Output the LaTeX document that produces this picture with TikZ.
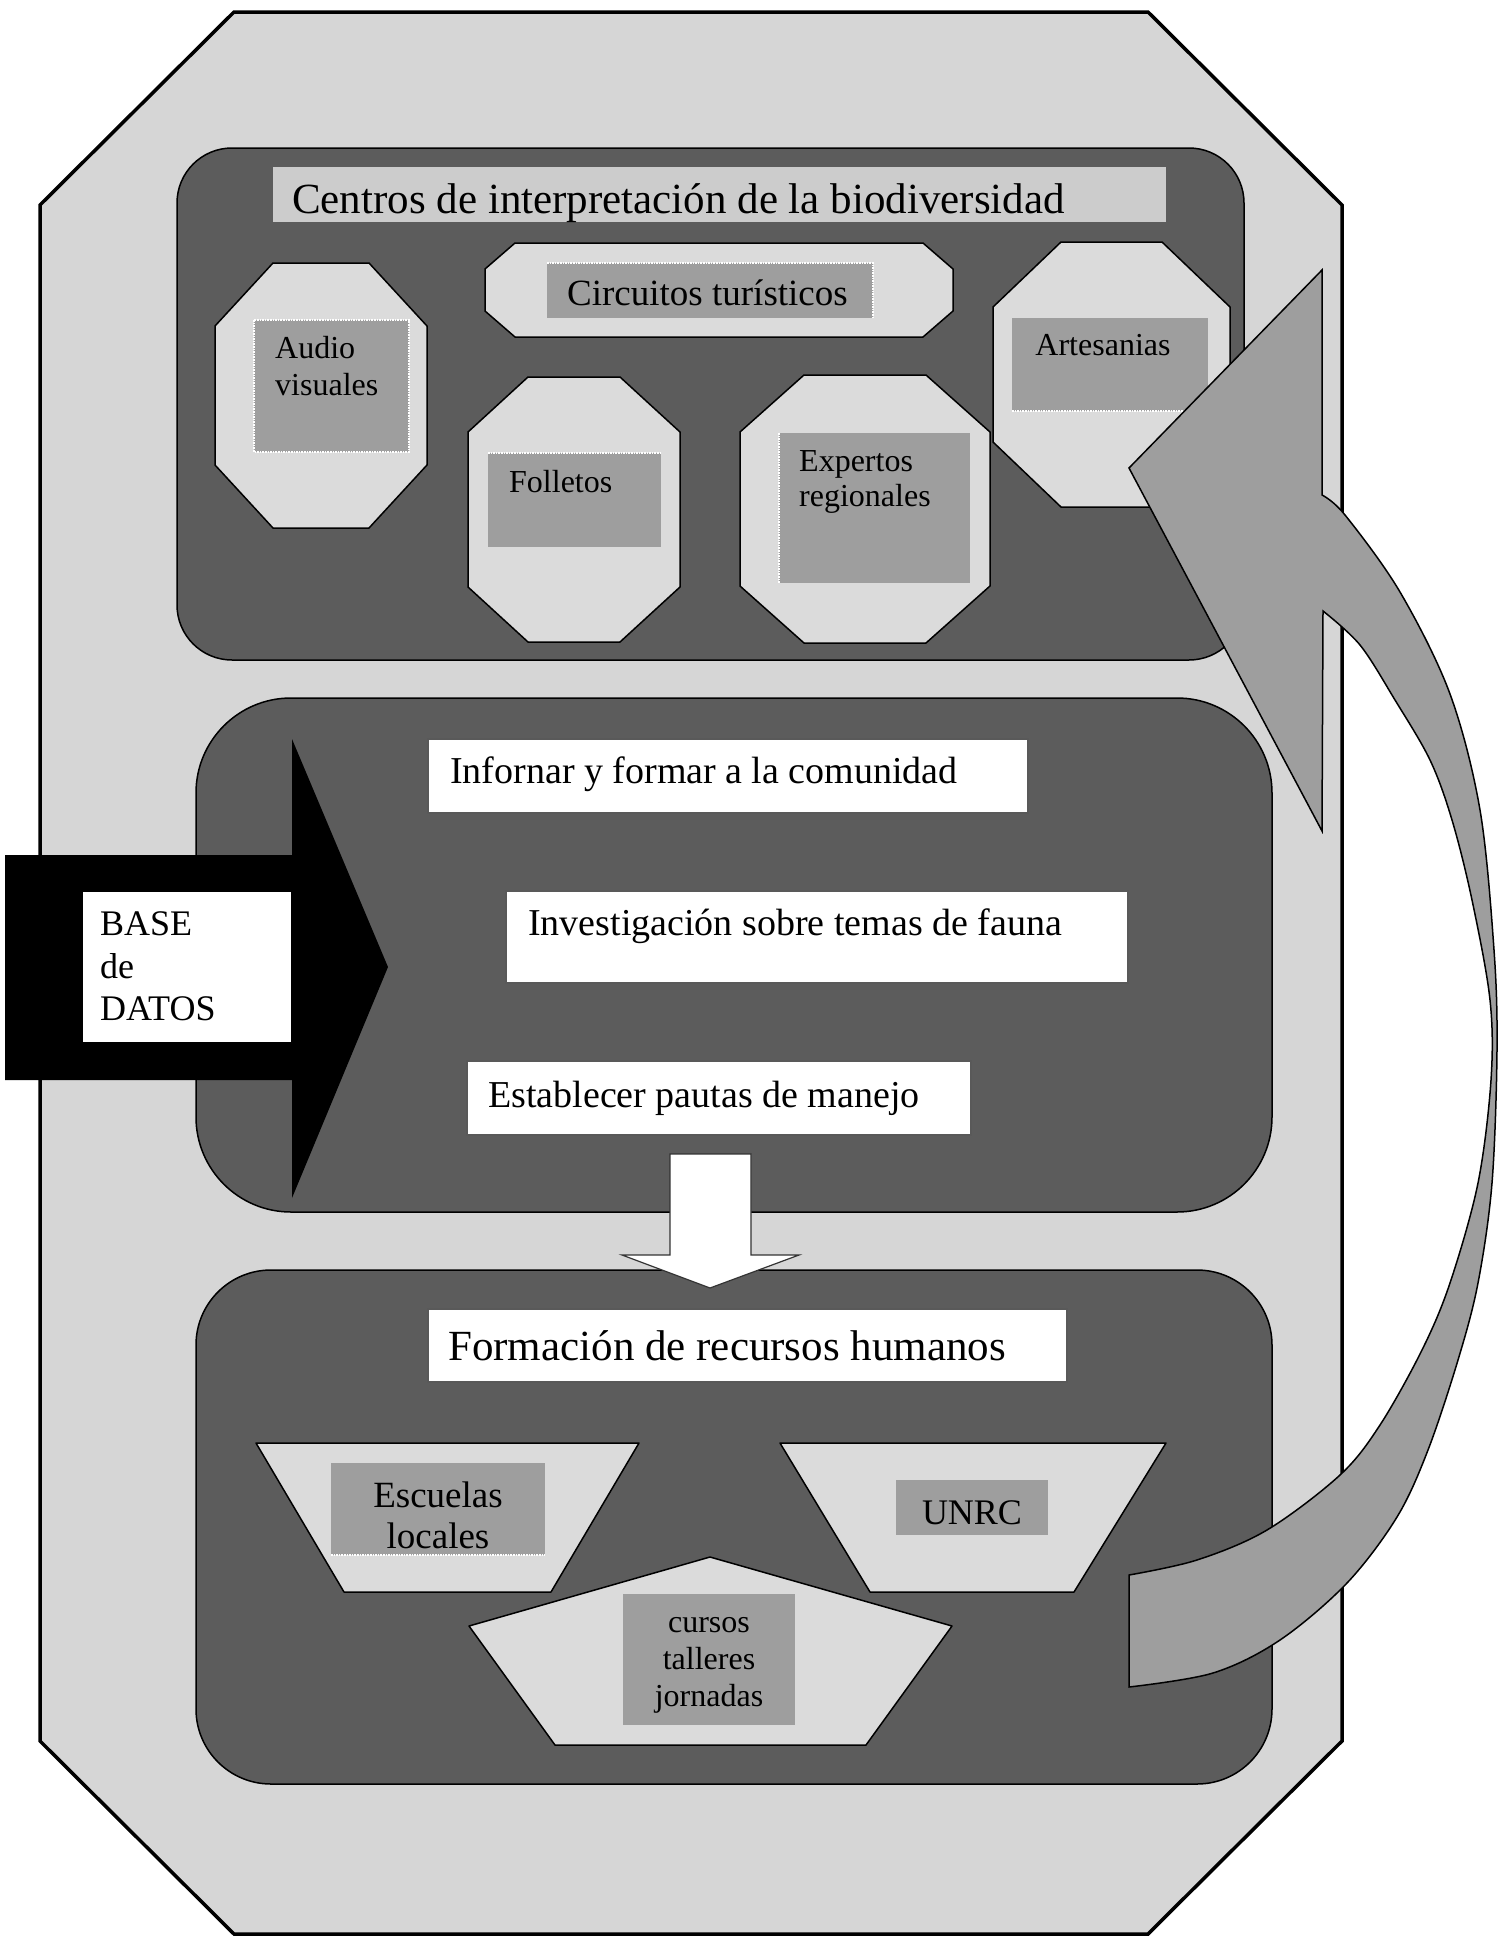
\documentclass[tikz,border=0pt]{standalone}
\usepackage{fontspec}
\setmainfont{Liberation Serif}
\definecolor{sheet}{gray}{0.84}
\definecolor{panel}{gray}{0.36}
\definecolor{tile}{gray}{0.86}
\definecolor{plate}{gray}{0.62}
\definecolor{banner}{gray}{0.80}
\definecolor{loopgray}{gray}{0.62}

% light octagonal tile: x1 y1 x2 y2 corner-dx corner-dy
\newcommand\tileoct[6]{%
  \draw[tilebox] ({#1+#5},#2) -- ({#3-#5},#2) -- (#3,{#2+#6}) -- (#3,{#4-#6})
    -- ({#3-#5},#4) -- ({#1+#5},#4) -- (#1,{#4-#6}) -- (#1,{#2+#6}) -- cycle;}

\begin{document}
\begin{tikzpicture}[x=1pt,y=-1pt,
  panelbox/.style={fill=panel, draw=black, line width=1.5pt},
  tilebox/.style={fill=tile, draw=black, line width=1.5pt, line join=round},
  platebox/.style={fill=plate},
  glint/.style={draw=white, line width=1.6pt, densely dotted},
  whitebox/.style={fill=white, draw=black!65, line width=1.2pt},
  lbl/.style={inner sep=0pt, anchor=base west, font=\fontsize{#1}{#1}\selectfont},
  clbl/.style={inner sep=0pt, anchor=base, font=\fontsize{#1}{#1}\selectfont},
]
\fill[white] (0,0) rectangle (1500,1938);
\useasboundingbox (0,0) rectangle (1500,1938);

% outer sheet
\draw[fill=sheet, draw=black, line width=3.5pt, line join=miter]
  (234,12) -- (1148,12) -- (1342,205) -- (1342,1741) -- (1148,1934)
  -- (234,1934) -- (40,1741) -- (40,205) -- cycle;

% ---------- upper panel ----------
\draw[panelbox, rounded corners=55pt] (177,148) rectangle (1244,660);
\draw[fill=banner, draw=none] (273,167) rectangle (1166,222);
\node[lbl=43] (centros) at (292,213) {Centros de interpretación de la biodiversidad};

\tileoct{215}{263}{427}{528}{58}{63}
\tileoct{485}{243}{953}{337}{30}{26}
\tileoct{468}{377}{680}{642}{60}{55}
\tileoct{740}{375}{990}{643}{64}{57}
\tileoct{993}{242}{1230}{507}{68}{65}

\fill[platebox] (254,320) rectangle (409,452);
\draw[glint] (254,320) rectangle (409,452);
\fill[platebox] (547,263) rectangle (873,318);
\draw[glint] (547,263) -- (873,263) -- (873,318);
\fill[platebox] (488,453) rectangle (661,547);
\draw[glint] (488,453) -- (661,453);
\fill[platebox] (779,433) rectangle (970,583);
\draw[glint] (779,433) -- (779,583);
\fill[platebox] (1012,318) rectangle (1208,411);
\draw[glint] (1012,411) -- (1208,411);

\node[lbl=37] (circuitos) at (567,305) {Circuitos turísticos};
\node[lbl=32] (audio) at (275,358) {Audio};
\node[lbl=32] (visuales) at (275,395) {visuales};
\node[lbl=32] (folletos) at (509,492) {Folletos};
\node[lbl=32] (expertos) at (799,471) {Expertos};
\node[lbl=32] (regionales) at (799,506) {regionales};
\node[clbl=32] (artesanias) at (1103,355) {Artesanias};

% ---------- middle panel ----------
\draw[panelbox, rounded corners=95pt] (196,698) rectangle (1272,1212);
\draw[whitebox] (428,739) rectangle (1028,813);
\draw[whitebox] (506,891) rectangle (1128,983);
\draw[whitebox] (467,1061) rectangle (971,1135);
\node[lbl=38] (informar) at (450,783) {Infornar y formar a la comunidad};
\node[lbl=38] (investigacion) at (528,935) {Investigación sobre temas de fauna};
\node[lbl=38] (pautas) at (488,1107) {Establecer pautas de manejo};

% black input arrow with its label
\fill[black] (5,855) -- (292,855) -- (292,739) -- (388,967) -- (292,1198)
  -- (292,1080) -- (5,1080) -- cycle;
\fill[white] (83,892) rectangle (291,1042);
\node[lbl=36] (base) at (100,935) {BASE};
\node[lbl=36] (de) at (100,978) {de};
\node[lbl=36] (datos) at (100,1020) {DATOS};

% ---------- lower panel ----------
\draw[panelbox, rounded corners=75pt] (196,1270) rectangle (1272,1784);
\draw[whitebox] (428,1309) rectangle (1067,1382);
\node[lbl=43] (formacion) at (448,1360) {Formación de recursos humanos};

\draw[tilebox] (256,1443) -- (639,1443) -- (551,1592) -- (344,1592) -- cycle;
\draw[tilebox] (780,1443) -- (1166,1443) -- (1074,1592) -- (870,1592) -- cycle;
\draw[tilebox] (710,1557) -- (952,1626) -- (866,1745) -- (555,1745) -- (469,1626) -- cycle;

\fill[platebox] (331,1463) rectangle (545,1555);
\draw[glint] (331,1555) -- (545,1555);
\fill[platebox] (896,1480) rectangle (1048,1535);
\fill[platebox] (623,1594) rectangle (795,1725);

\node[clbl=37] (escuelas) at (438,1507) {Escuelas};
\node[clbl=37] (locales) at (438,1548) {locales};
\node[clbl=36] (unrc) at (972,1524) {UNRC};
\node[clbl=32] (cursos) at (709,1632) {cursos};
\node[clbl=32] (talleres) at (709,1669) {talleres};
\node[clbl=32] (jornadas) at (709,1706) {jornadas};

% white arrow between the two lower panels
\draw[fill=white, draw=black!80, line width=1.2pt, line join=miter]
  (670,1154) -- (751,1154) -- (751,1255) -- (799,1255) -- (710,1288)
  -- (622,1255) -- (670,1255) -- cycle;

% ---------- curved return arrow ----------
\draw[fill=loopgray, draw=black, line width=1.5pt, line join=miter]
  (1129,468) -- (1322,270) -- (1322,495)
  -- plot[smooth, tension=0.55] coordinates {(1322,495) (1345,515) (1400,592)
     (1450,694) (1480,810) (1494,950) (1497,1050) (1492,1183) (1478,1283)
     (1458,1360) (1428,1450) (1397,1517) (1347,1583) (1280,1640) (1213,1673)
     (1129,1687)}
  -- (1129,1575)
  -- plot[smooth, tension=0.55] coordinates {(1129,1575) (1197,1560) (1267,1530)
     (1340,1475) (1380,1425) (1422,1350) (1450,1283) (1478,1183) (1491,1080)
     (1490,1000) (1472,900) (1452,820) (1430,760) (1395,700) (1360,645)
     (1323,611)}
  -- (1322,831) -- cycle;

\end{tikzpicture}
\end{document}
